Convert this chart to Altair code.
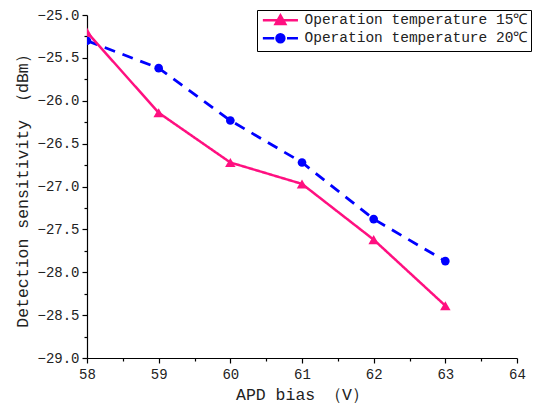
import altair as alt
import pandas as pd

# ---- data ----
bias = [58, 59, 60, 61, 62, 63]
sens_15 = [-25.20, -26.14, -26.72, -26.97, -27.62, -28.39]
sens_20 = [-25.30, -25.62, -26.23, -26.72, -27.38, -27.87]
series_names = ["Operation temperature 15℃", "Operation temperature 20℃"]
colors = ["#FF1080", "#0000FF"]
x_ticks = [58, 58.5, 59, 59.5, 60, 60.5, 61, 61.5, 62, 62.5, 63, 63.5, 64]
y_ticks = [-29, -28.75, -28.5, -28.25, -28, -27.75, -27.5, -27.25, -27,
           -26.75, -26.5, -26.25, -26, -25.75, -25.5, -25.25, -25]

df = pd.DataFrame({
    "bias": bias + bias,
    "sens": sens_15 + sens_20,
    "series": [series_names[0]] * len(bias) + [series_names[1]] * len(bias),
})

FONT = "Liberation Mono"
TXT = "#222222"

# legend symbols: line + marker drawn as custom paths
legend_paths = [
    "M-1,0H7M3,-1.1L4.1,0.85L1.9,0.85Z",
    "M-1,0H1.6M4.5,0H7M2.1,0A0.9,0.9 0 1,0 3.9,0A0.9,0.9 0 1,0 2.1,0Z",
]

x_enc = alt.X(
    "bias:Q",
    scale=alt.Scale(domain=[58, 64], nice=False, zero=False),
    axis=alt.Axis(
        values=x_ticks,
        labelExpr="datum.value % 1 === 0 ? format(datum.value, 'd') : ''",
        tickSize={"condition": {"test": "datum.value % 1 === 0", "value": 5}, "value": 3},
        labelOverlap=False,
        labelFlush=False,
        labelPadding=4,
        title="APD bias （V）",
        titlePadding=5,
    ),
)
y_enc = alt.Y(
    "sens:Q",
    scale=alt.Scale(domain=[-29, -25], nice=False, zero=False),
    axis=alt.Axis(
        values=y_ticks,
        labelExpr="datum.value % 0.5 === 0 ? format(datum.value, '.1f') : ''",
        tickSize={"condition": {"test": "datum.value % 0.5 === 0", "value": 5}, "value": 3},
        labelOverlap=False,
        labelFlush=False,
        labelPadding=3,
        title="Detection sensitivity （dBm）",
        titlePadding=6,
    ),
)

base = alt.Chart(df)

def series_layer(i, dash, shape, size, width):
    name = series_names[i]
    src = base.transform_filter(alt.datum.series == name)
    line = src.mark_line(color=colors[i], strokeWidth=width, strokeDash=dash, clip=True).encode(x=x_enc, y=y_enc)
    pts = src.mark_point(filled=True, shape=shape, size=size, color=colors[i], opacity=1, clip=True).encode(x=x_enc, y=y_enc)
    return line + pts

blue = series_layer(1, [11, 8], "circle", 75, 2.8)
pink = series_layer(0, [1, 0], "triangle-up", 110, 2.5)

legend_layer = base.transform_filter("false").mark_point(filled=True, opacity=1).encode(
    x=x_enc,
    y=y_enc,
    shape=alt.Shape("series:N", scale=alt.Scale(domain=series_names, range=legend_paths), legend=alt.Legend(title=None)),
    color=alt.Color("series:N", scale=alt.Scale(domain=series_names, range=colors), legend=alt.Legend(title=None)),
    stroke=alt.Stroke("series:N", scale=alt.Scale(domain=series_names, range=colors), legend=alt.Legend(title=None)),
)

chart = alt.layer(blue, pink, legend_layer).properties(
    width=430,
    height=343,
    autosize=alt.AutoSizeParams(type="none"),
    padding={"left": 79, "top": 7, "right": 20, "bottom": 47},
).configure_view(stroke=None).configure_axis(
    grid=False,
    domainColor="black",
    domainWidth=1.2,
    tickColor="black",
    tickWidth=1.2,
    labelFont=FONT,
    labelFontSize=14,
    labelColor=TXT,
    titleFont=FONT,
    titleFontSize=16.5,
    titleFontWeight="normal",
    titleColor=TXT,
).configure_legend(
    orient="none",
    legendX=170,
    legendY=-5,
    strokeColor="black",
    fillColor="white",
    padding=3,
    labelFont=FONT,
    labelFontSize=14.5,
    labelColor=TXT,
    labelLimit=0,
    labelOffset=30,
    symbolSize=77,
    symbolStrokeWidth=2.5,
    rowPadding=0,
    cornerRadius=0,
)

chart.save("out.html", embed_options={"renderer": "svg", "actions": False})
